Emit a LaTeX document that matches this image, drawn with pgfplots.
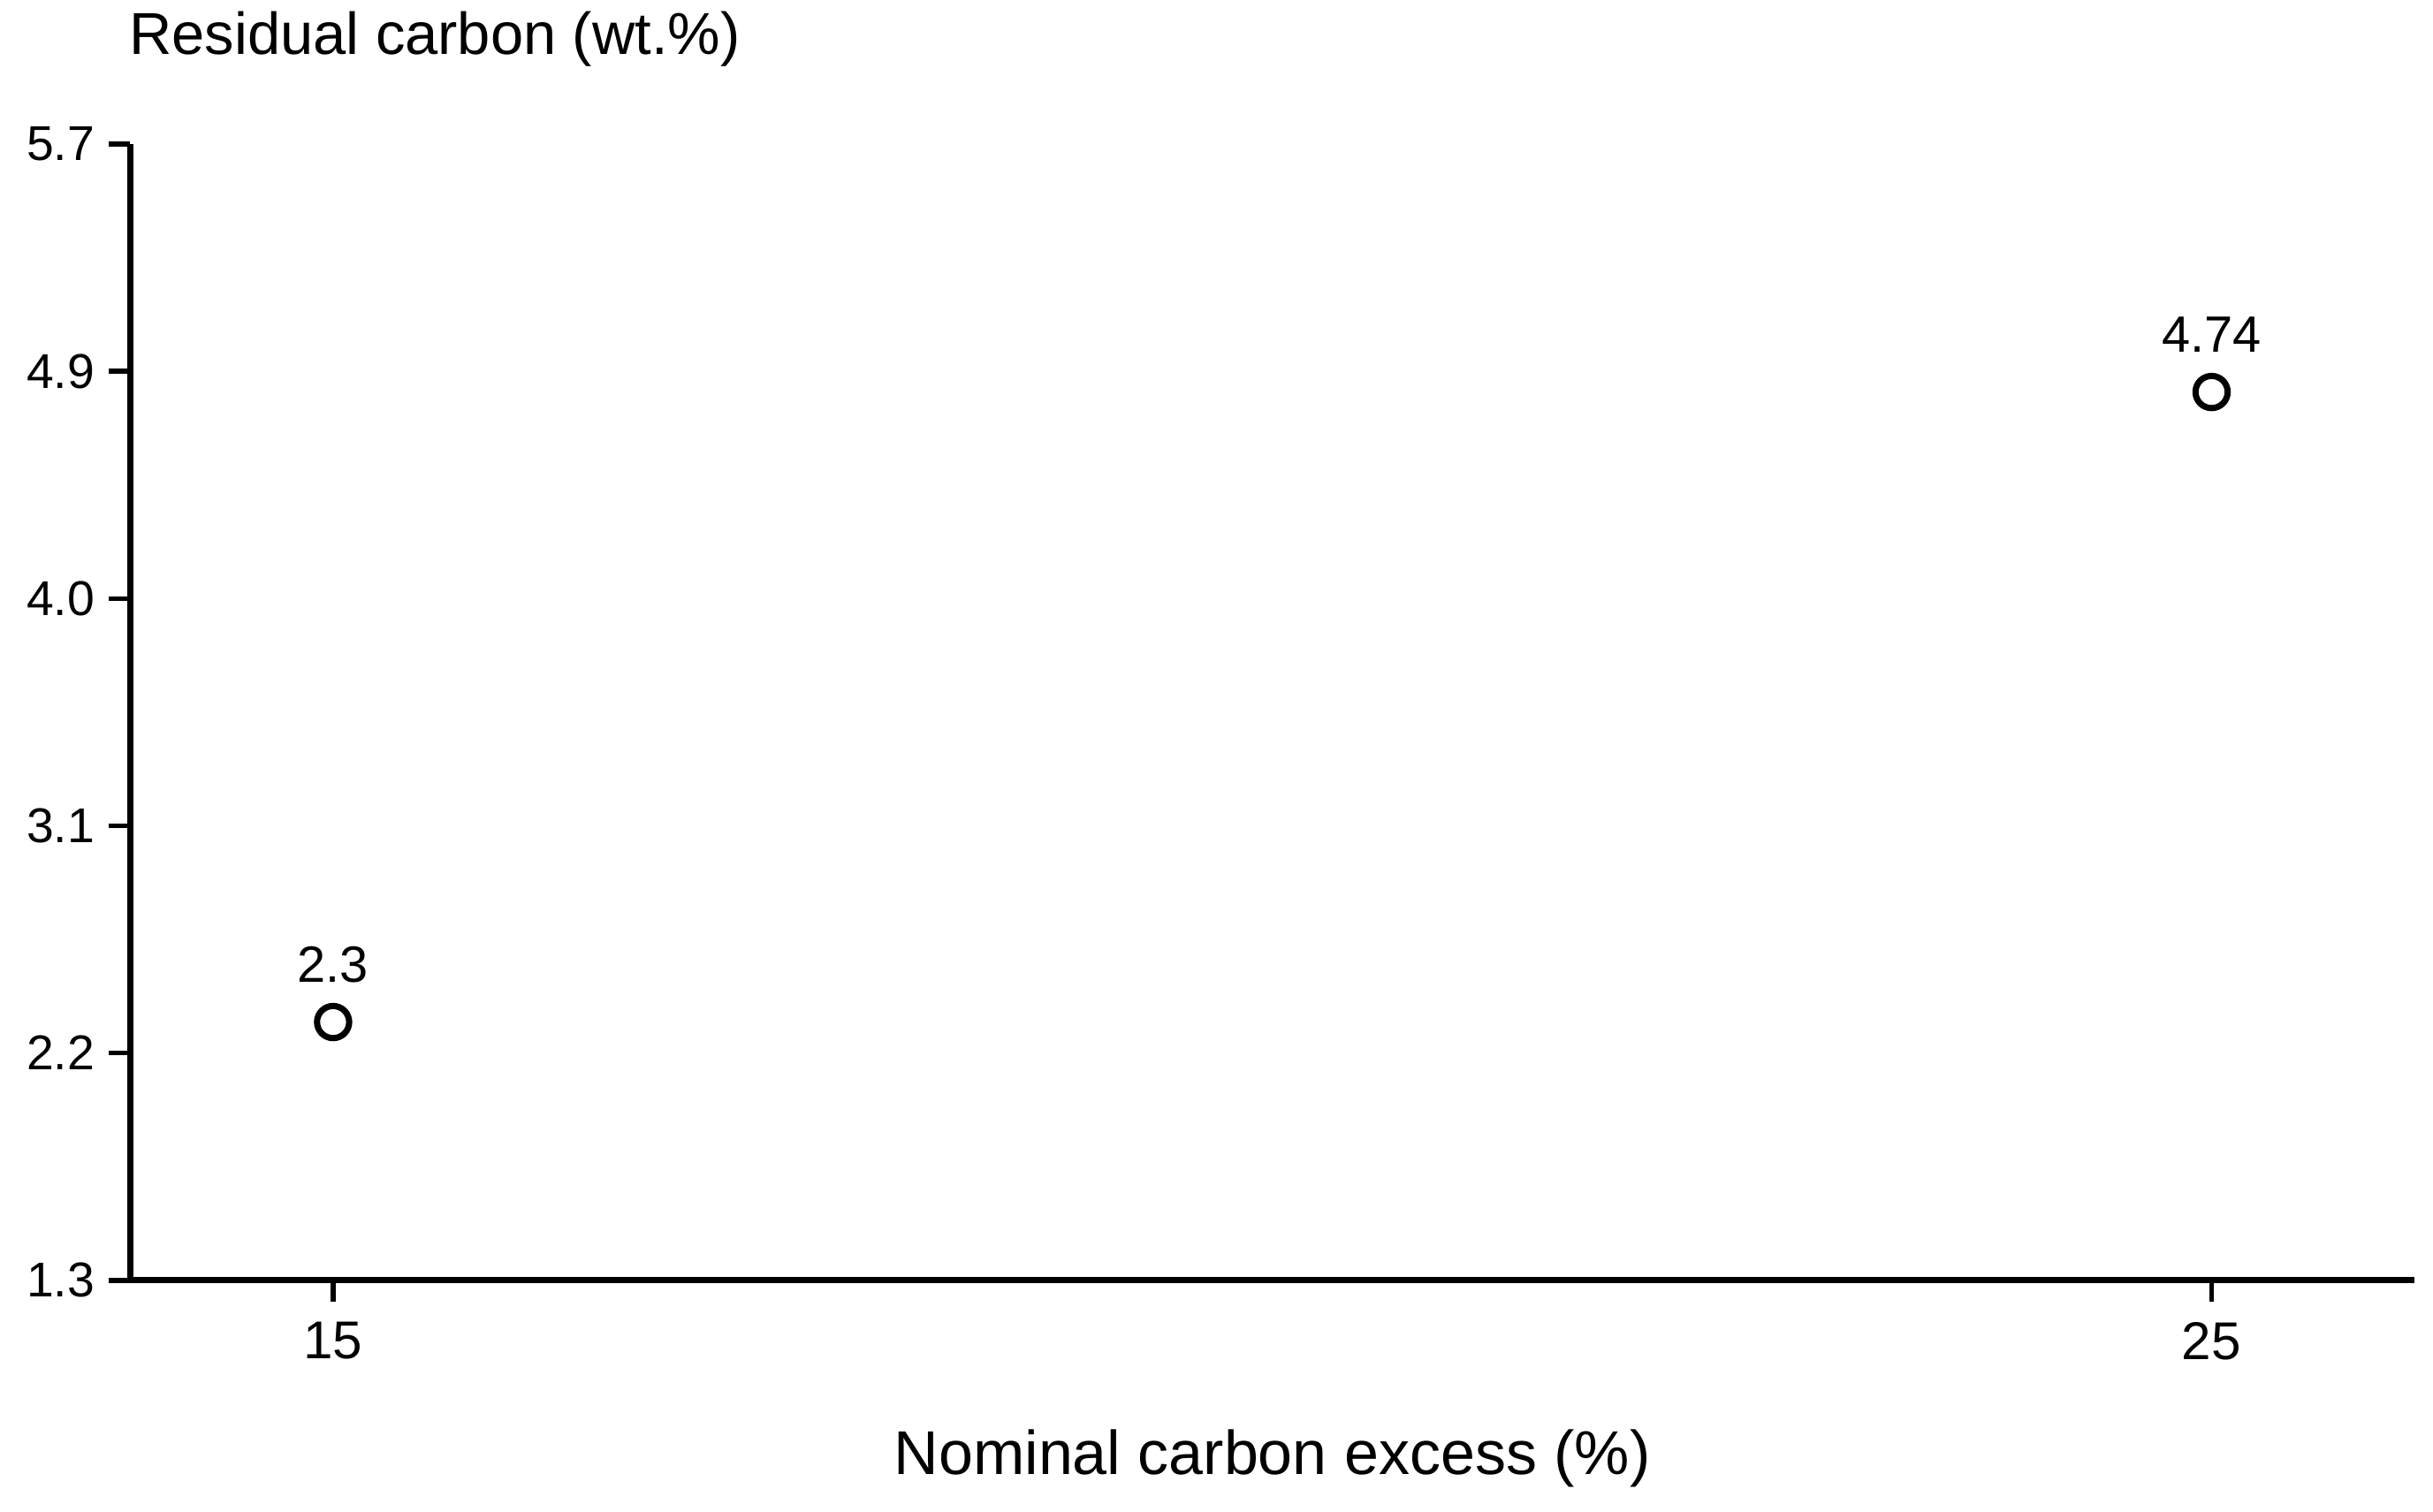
\documentclass[border=0pt]{standalone}
\usepackage{fontspec}
\setmainfont{Liberation Sans}
\usepackage{pgfplots}
\pgfplotsset{compat=1.18}

\begin{document}
\begin{tikzpicture}
% overall page size, relative to the axis corner
\useasboundingbox (-42.1pt,-74.7pt) rectangle (744.4pt,413.9pt);
\begin{axis}[
  at={(0,0)}, anchor=south west,
  scale only axis,
  width=738.4pt, height=367.3pt,
  xmin=13.92, xmax=26.08,
  ymin=1.3, ymax=5.7,
  axis x line=bottom, axis y line=left,
  axis line style={-, line width=2pt},
  tick align=outside,
  major tick length=7pt,
  every tick/.style={black, line width=1.6pt},
  xtick={15,25},
  ytick={1.3,2.18,3.06,3.94,4.82,5.7},
  yticklabels={1.3,2.2,3.1,4.0,4.9,5.7},
  /pgf/number format/assume math mode=true,
  yticklabel style={font=\fontsize{15.8}{18}\selectfont, xshift=-1pt},
  xticklabel style={font=\fontsize{17.2}{19}\selectfont, yshift=-3pt},
  xlabel={Nominal carbon excess (\%)},
  ylabel={Residual carbon (wt.\%)},
  xlabel style={font=\fontsize{20}{22}\selectfont, at={(axis description cs:0.5,0)}, anchor=base, yshift=-62.7pt},
  ylabel style={font=\fontsize{19.1}{22}\selectfont, rotate=-90, at={(axis description cs:0,1)}, anchor=base west, xshift=-3.8pt, yshift=29pt},
  clip=false,
]
\addplot[only marks, mark=o, mark size=5.2pt, mark options={line width=2pt, black},
  nodes near coords, point meta=explicit symbolic,
  nodes near coords style={anchor=base, yshift=13pt, inner sep=0pt, font=\fontsize{16.5}{18}\selectfont}]
  table[meta=label] {
x y label
15 2.3 2.3
25 4.74 4.74
};
\end{axis}
\end{tikzpicture}
\end{document}
